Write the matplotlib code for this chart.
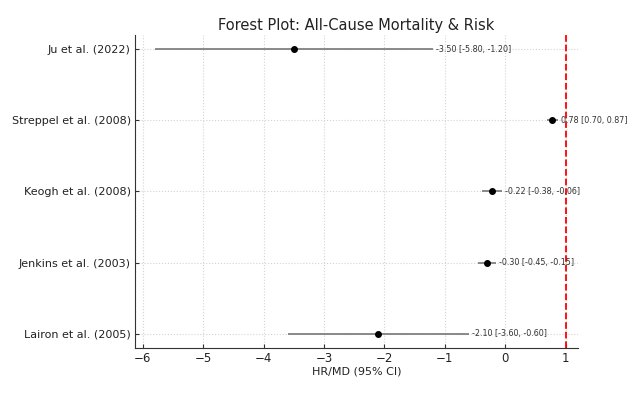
import matplotlib
matplotlib.use("Agg")
import matplotlib.pyplot as plt

studies = ["Ju et al. (2022)", "Streppel et al. (2008)", "Keogh et al. (2008)",
           "Jenkins et al. (2003)", "Lairon et al. (2005)"]
effects = [-3.50, 0.78, -0.22, -0.30, -2.10]
lower = [-5.80, 0.70, -0.38, -0.45, -3.60]
upper = [-1.20, 0.87, -0.06, -0.15, -0.60]
ref_line = 1

fig = plt.figure(figsize=(6.42, 3.94), dpi=100)
ax = fig.add_axes([0.21, 0.117, 0.69, 0.794])

ypos = list(range(len(studies)))[::-1]
err_lo = [e - l for e, l in zip(effects, lower)]
err_hi = [u - e for e, u in zip(effects, upper)]

ax.errorbar(effects, ypos, xerr=[err_lo, err_hi], fmt='o', color='black',
            ecolor='gray', elinewidth=1.3, markersize=4, capsize=0, zorder=3)

for e, l, u, y in zip(effects, lower, upper, ypos):
    ax.text(u + 0.05, y, f"{e:.2f} [{l:.2f}, {u:.2f}]", va='center', ha='left',
            fontsize=5.8, color='#333333')

ax.axvline(ref_line, color='red', linestyle='--', linewidth=1.3)

ax.set_yticks(ypos)
ax.set_yticklabels(studies, fontsize=8, color='#222222')
ax.tick_params(axis='both', direction='in', length=3, width=0.8, pad=3,
               color='#333333', labelcolor='#222222')
ax.tick_params(axis='x', labelsize=8.5)
ax.set_xlabel("HR/MD (95% CI)", fontsize=8, labelpad=1, color='#222222')
ax.set_title("Forest Plot: All-Cause Mortality & Risk", fontsize=10.5, pad=4,
             color='#222222')
ax.grid(True, linestyle=':', color='lightgray', linewidth=0.8)
ax.set_axisbelow(True)
ax.spines['top'].set_visible(False)
ax.spines['right'].set_visible(False)
for side in ['left', 'bottom']:
    ax.spines[side].set_color('#333333')

plt.savefig("out.png", dpi=100)
